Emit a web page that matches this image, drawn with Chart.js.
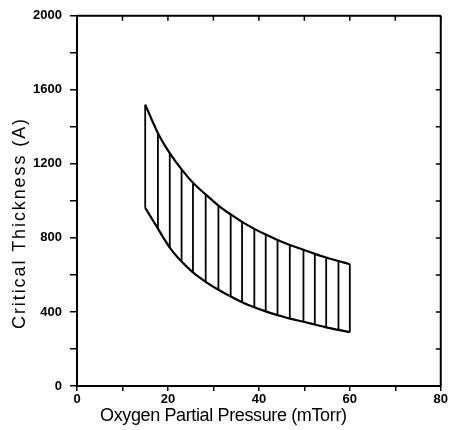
<!DOCTYPE html>
<html><head><meta charset="utf-8">
<script src="https://cdn.jsdelivr.net/npm/chart.js@4"></script>
<style>html,body{margin:0;padding:0;background:#fff}</style>
</head><body>
<canvas id="c" width="449" height="430"></canvas>
<script>
// Data
const pressure = [15, 17.8, 20.4, 23.0, 25.5, 28.3, 31.1, 33.8, 36.3, 39.0, 41.5, 44.1, 46.8, 49.8, 52.3, 54.8, 57.5, 60];
const upperThickness = [1520, 1366, 1258, 1170, 1098, 1035, 975, 927, 887, 849, 818, 789, 762, 736, 714, 694, 675, 658];
const lowerThickness = [963, 850, 748, 672, 614, 563, 520, 484, 453, 425, 403, 383, 364, 347, 332, 317, 303, 291];
const xTickValues = [0, 10, 20, 30, 40, 50, 60, 70, 80];
const xLabelValues = [0, 20, 40, 60, 80];
const yTickValues = [0, 200, 400, 600, 800, 1000, 1200, 1400, 1600, 1800, 2000];
const yLabelValues = [0, 400, 800, 1200, 1600, 2000];
const xTitle = 'Oxygen Partial Pressure (mTorr)';
const yTitle = 'Critical Thickness (A)';

const upperPts = pressure.map((x, i) => ({x, y: upperThickness[i]}));
const lowerPts = pressure.map((x, i) => ({x, y: lowerThickness[i]}));
const hatchPts = [];
pressure.forEach((x, i) => {
  hatchPts.push({x, y: upperThickness[i]});
  hatchPts.push({x, y: lowerThickness[i]});
  hatchPts.push({x, y: null});
});

const INK = '#000';
const FONT = '"Liberation Sans", Arial, sans-serif';

const framePlugin = {
  id: 'frame',
  afterDraw(chart) {
    const {ctx, chartArea: a, scales: {x, y}} = chart;
    ctx.save();
    ctx.strokeStyle = INK;
    ctx.lineWidth = 2;
    ctx.beginPath();
    ctx.moveTo(a.left, a.top); ctx.lineTo(a.right, a.top);
    ctx.moveTo(a.right, a.top); ctx.lineTo(a.right, a.bottom);
    ctx.stroke();
    ctx.lineWidth = 1.5;
    ctx.beginPath();
    xTickValues.forEach(v => {
      const px = x.getPixelForValue(v);
      ctx.moveTo(px, a.top); ctx.lineTo(px, a.top + 5);
    });
    yTickValues.forEach(v => {
      const py = y.getPixelForValue(v);
      ctx.moveTo(a.right, py); ctx.lineTo(a.right - 5, py);
    });
    ctx.stroke();

    // axis titles
    ctx.fillStyle = INK;
    ctx.font = '18px ' + FONT;
    ctx.textBaseline = 'middle';
    function fit(text, target) {
      ctx.letterSpacing = '0px';
      const w = ctx.measureText(text).width;
      const ls = (target - w) / (text.length - 1);
      ctx.letterSpacing = ls + 'px';
    }
    fit(xTitle, 247);
    ctx.textAlign = 'left';
    ctx.fillText(xTitle, 100, 416);
    ctx.save();
    ctx.translate(20, 223);
    ctx.rotate(-Math.PI / 2);
    fit(yTitle, 210);
    ctx.textAlign = 'center';
    ctx.fillText(yTitle, 0, 0);
    ctx.restore();
    ctx.restore();
  }
};

new Chart(document.getElementById('c'), {
  type: 'line',
  data: {
    datasets: [
      {data: upperPts, borderColor: INK, borderWidth: 2.2, pointRadius: 0, fill: false, cubicInterpolationMode: 'monotone'},
      {data: lowerPts, borderColor: INK, borderWidth: 2.2, pointRadius: 0, fill: false, cubicInterpolationMode: 'monotone'},
      {data: hatchPts, borderColor: INK, borderWidth: 1.8, pointRadius: 0, fill: false, tension: 0, spanGaps: false}
    ]
  },
  options: {
    responsive: false,
    animation: false,
    layout: {padding: {top: 15, right: 7, left: 0, bottom: 0}},
    plugins: {legend: {display: false}, tooltip: {enabled: false}},
    scales: {
      x: {
        type: 'linear', min: 0, max: 80,
        afterFit(s) { s.height = 44; },
        afterBuildTicks(s) { s.ticks = xTickValues.map(v => ({value: v})); },
        ticks: {
          autoSkip: false, maxRotation: 0, padding: 1, color: INK,
          font: {family: FONT, size: 13, weight: 'bold'},
          callback: v => xLabelValues.includes(v) ? String(v) : ''
        },
        grid: {drawOnChartArea: false, drawTicks: true, tickLength: 5, color: INK, lineWidth: 1.5},
        border: {display: true, color: INK, width: 2}
      },
      y: {
        type: 'linear', min: 0, max: 2000,
        afterFit(s) { s.width = 77; },
        afterBuildTicks(s) { s.ticks = yTickValues.map(v => ({value: v})); },
        ticks: {
          autoSkip: false, padding: 8, color: INK,
          font: {family: FONT, size: 13, weight: 'bold'},
          callback: v => yLabelValues.includes(v) ? String(v) : ''
        },
        grid: {drawOnChartArea: false, drawTicks: true, tickLength: 7, color: INK, lineWidth: 1.5},
        border: {display: true, color: INK, width: 2}
      }
    }
  },
  plugins: [framePlugin]
});
</script>
</body></html>
